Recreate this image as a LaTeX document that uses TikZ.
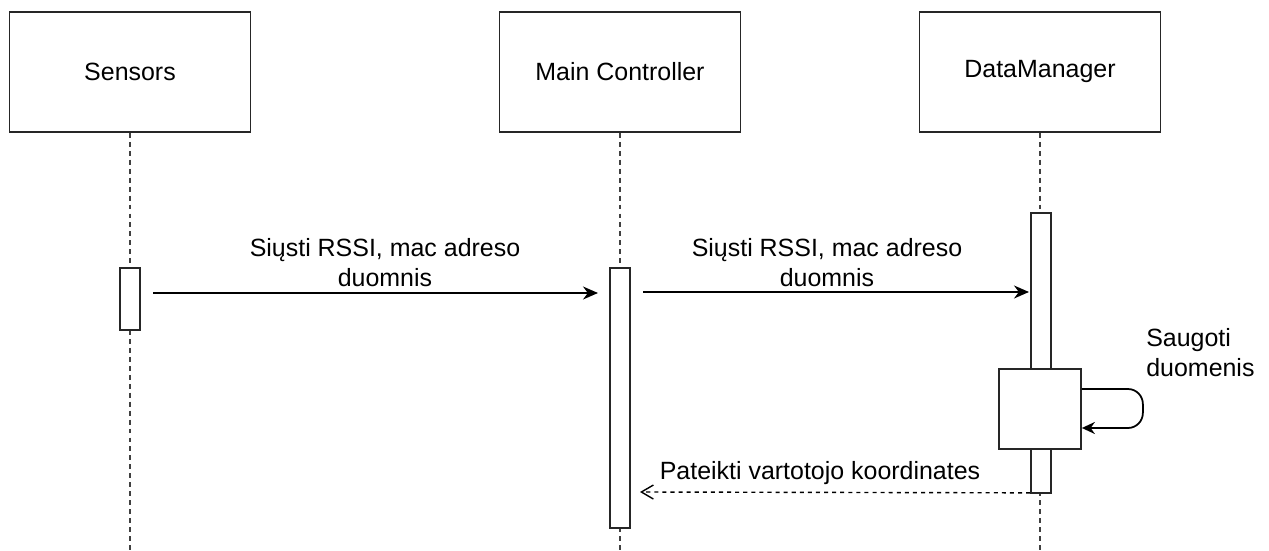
\documentclass[tikz,border=0pt]{standalone}
\usepackage{fontspec}
\setmainfont{Liberation Sans}
\usetikzlibrary{arrows.meta, positioning}

\begin{document}
\begin{tikzpicture}[
    x=0.02cm, y=-0.02cm,
    actor/.style={
        rectangle,
        draw=black!85,
        line width=1pt,
        minimum width=4.82cm,
        minimum height=2.4cm,
        font=\fontsize{14.2}{17.1}\selectfont
    },
    lifeline/.style={draw=black!75, line width=1pt, dash pattern=on 2.8pt off 2.3pt},
    activation/.style={
        rectangle,
        draw=black!85,
        fill=white,
        line width=1pt,
        minimum width=0.4cm,
        inner sep=0pt
    },
    msg/.style={-{Stealth[length=3mm, width=2.6mm]}, line width=1pt},
    reply/.style={-{Straight Barb[length=2.4mm, width=2.8mm]}, line width=0.8pt, dash pattern=on 2.3pt off 2.3pt},
    lbl/.style={align=center, inner sep=0pt, font=\fontsize{14.2}{17.1}\selectfont}
]

\useasboundingbox (0,0) rectangle (1269,551);

\node[actor] (sensors) at (130,72) {Sensors};
\node[actor] (ctrl) at (620,72) {Main Controller};
\node[actor] (dm) at (1040,72) {DataManager};

\coordinate (sensorsEnd) at (130,551);
\coordinate (ctrlEnd) at (620,551);
\coordinate (dmEnd) at (1040,551);
\draw[lifeline] (sensors.south) -- (sensorsEnd);
\draw[lifeline] (ctrl.south) -- (ctrlEnd);
\draw[lifeline] (dm.south) -- (dmEnd);

\node[activation, minimum height=1.24cm] (sensorsAct) at (130,299) {};
\node[activation, minimum height=5.2cm] (ctrlAct) at (620,398) {};
\node[activation, minimum height=5.6cm] (dmAct) at (1041,353) {};
\node[activation, minimum width=1.64cm, minimum height=1.6cm] (store) at (1040,409) {};

\coordinate (sendFrom) at (153,293);
\coordinate (sendTo) at (598,293);
\draw[msg] (sendFrom) -- (sendTo);
\node[lbl, anchor=south] (sendLbl) at (385,287) {Siųsti RSSI, mac adreso\\duomnis};

\coordinate (fwdFrom) at (643,292);
\coordinate (fwdTo) at (1029,292);
\draw[msg] (fwdFrom) -- (fwdTo);
\node[lbl, anchor=south] (fwdLbl) at (827,287) {Siųsti RSSI, mac adreso\\duomnis};

\draw[msg, -{Stealth[length=2.6mm, width=2.4mm]}, rounded corners=0.3cm]
    ([yshift=0.4cm]store.east) -- ++(61,0) -- ++(0,39) -- ([yshift=-0.38cm]store.east);
\node[lbl, align=left, anchor=south west] (storeLbl) at (1146,377) {Saugoti\\duomenis};

\coordinate (replyTo) at (640,492);
\draw[reply] ([yshift=0.02cm]dmAct.south west) -- (replyTo);
\node[lbl, anchor=base] (replyLbl) at (820,479) {Pateikti vartotojo koordinates};

\end{tikzpicture}
\end{document}
